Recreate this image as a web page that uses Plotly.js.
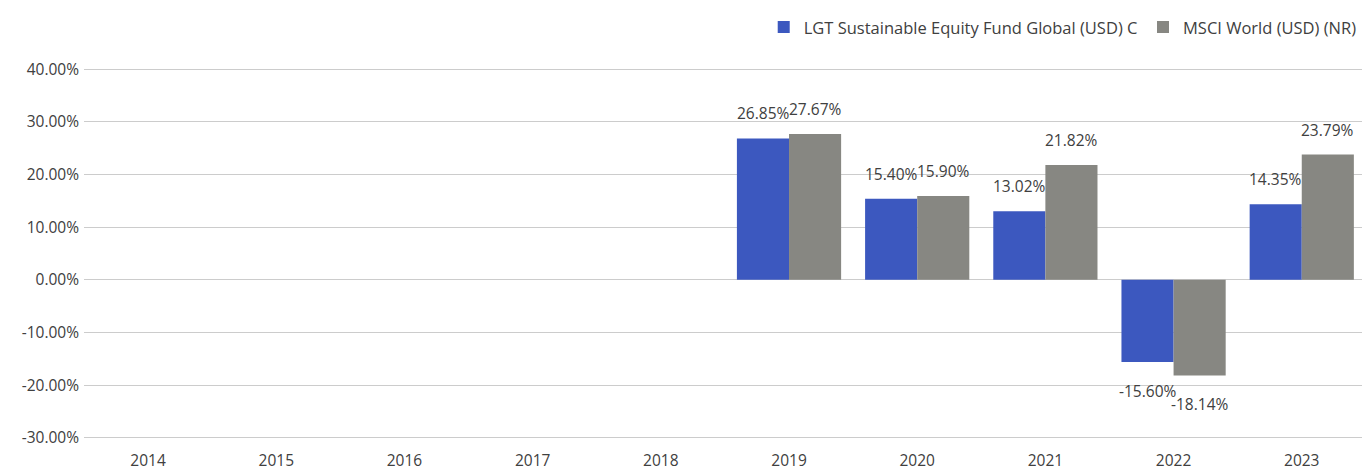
<!DOCTYPE html>
<html>
<head>
<meta charset="utf-8">
<script src="https://cdn.plot.ly/plotly-3.0.1.min.js"></script>
<style>html,body{margin:0;padding:0;background:#fff;}#chart{width:1362px;height:470px;}</style>
</head>
<body>
<div id="chart"></div>
<script>
const years = [2014, 2015, 2016, 2017, 2018, 2019, 2020, 2021, 2022, 2023];
const fundName = "LGT Sustainable Equity Fund Global (USD) C";
const benchName = "MSCI World (USD) (NR)";
const fundValues = [null, null, null, null, null, 26.85, 15.40, 13.02, -15.60, 14.35];
const benchValues = [null, null, null, null, null, 27.67, 15.90, 21.82, -18.14, 23.79];
const yTicks = [-30, -20, -10, 0, 10, 20, 30, 40];

const blue = "#3c58bf";
const gray = "#878782";
const textColor = "#404040";
const font = "Open Sans, Liberation Sans, Arial, sans-serif";

const traces = [
  {type: "bar", name: fundName, x: years, y: fundValues, marker: {color: blue}, hoverinfo: "skip", legend: "legend"},
  {type: "bar", name: benchName, x: years, y: benchValues, marker: {color: gray}, hoverinfo: "skip", legend: "legend2"}
];

const annotations = [];
[[fundValues, 0], [benchValues, 1]].forEach(([vals, idx]) => {
  vals.forEach((v, i) => {
    if (v === null) return;
    annotations.push({
      x: years[i], y: v, xref: "x", yref: "y",
      xshift: idx === 0 ? -26 : 26,
      yshift: v >= 0 ? 25 : -29,
      text: v.toFixed(2) + "%",
      showarrow: false,
      font: {family: font, size: 15.5, color: textColor},
      xanchor: "center", yanchor: "middle"
    });
  });
});

const legendFont = {family: font, size: 16.5, color: textColor};
const layout = {
  width: 1362, height: 470,
  margin: {l: 84, r: 0, t: 67, b: 30},
  paper_bgcolor: "#fff", plot_bgcolor: "#fff",
  barmode: "group", bargap: 0.187, bargroupgap: 0,
  showlegend: true,
  legend: {orientation: "h", xref: "container", x: 0.839, xanchor: "right",
           yref: "container", y: 0.979, yanchor: "top", font: legendFont},
  legend2: {orientation: "h", xref: "container", x: 1.0, xanchor: "right",
            yref: "container", y: 0.979, yanchor: "top", font: legendFont},
  xaxis: {range: [2013.5, 2023.47], tickvals: years, ticktext: years.map(String),
          showgrid: false, zeroline: false, showline: false, ticks: "",
          tickfont: {family: font, size: 15.5, color: textColor}, ticklabelstandoff: 9},
  yaxis: {range: [-30.4, 40.4], tickvals: yTicks, ticktext: yTicks.map(v => v.toFixed(2) + "%"),
          showgrid: true, gridcolor: "#cccccc", gridwidth: 1, zeroline: false, showline: false, ticks: "",
          tickfont: {family: font, size: 15.5, color: textColor}, ticklabelstandoff: 4},
  annotations: annotations
};

Plotly.newPlot("chart", traces, layout, {displayModeBar: false, staticPlot: true});
</script>
</body>
</html>
